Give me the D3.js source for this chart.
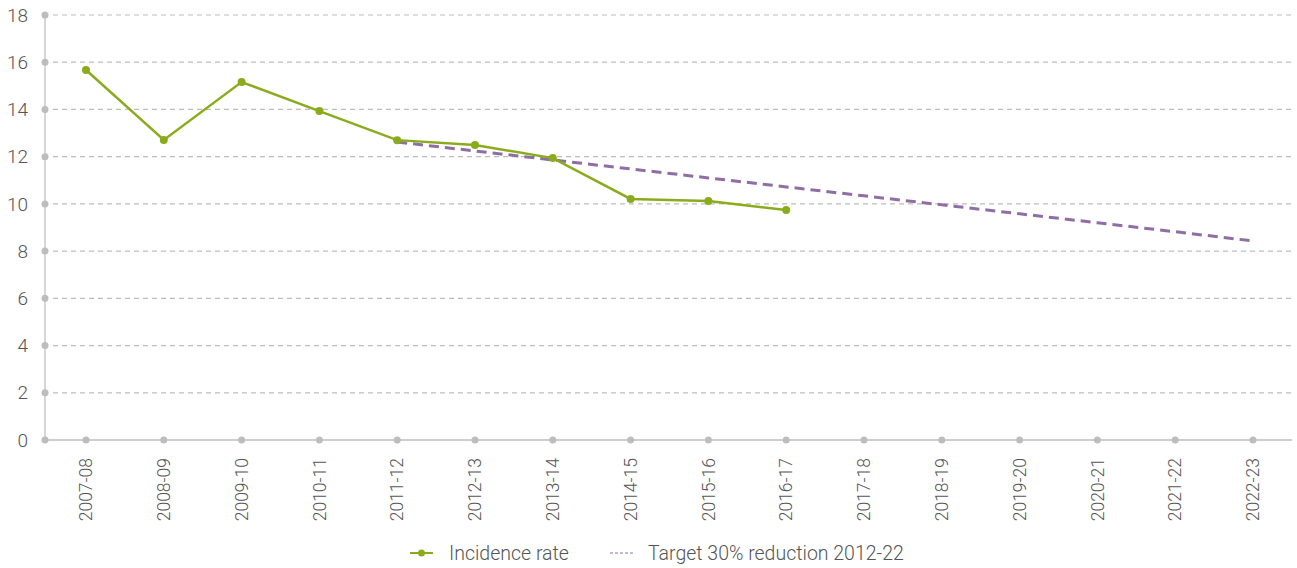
<!DOCTYPE html>
<html>
<head>
<meta charset="utf-8">
<script src="https://cdn.jsdelivr.net/npm/d3@7"></script>
<style>
  body { margin: 0; background: #fff; }
  text { font-family: Roboto, "Noto Sans", sans-serif; font-weight: 300; fill: #555; }
</style>
</head>
<body>
<script>
// data
var years = ["2007-08","2008-09","2009-10","2010-11","2011-12","2012-13","2013-14","2014-15",
             "2015-16","2016-17","2017-18","2018-19","2019-20","2020-21","2021-22","2022-23"];
var incidence = [15.67, 12.71, 15.16, 13.93, 12.7, 12.49, 11.94, 10.21, 10.12, 9.74];
var targetYears = ["2011-12","2012-13","2013-14","2014-15","2015-16","2016-17",
                   "2017-18","2018-19","2019-20","2020-21","2021-22","2022-23"];
var target = [12.62, 12.24, 11.86, 11.48, 11.1, 10.72, 10.34, 9.96, 9.58, 9.2, 8.82, 8.43];
var yTicks = [0, 2, 4, 6, 8, 10, 12, 14, 16, 18];

var w = 1297, h = 568;
var margin = {top: 15, right: 5, bottom: 128, left: 45},
    width = w - margin.left - margin.right,
    height = h - margin.top - margin.bottom;

var svg = d3.select("body").append("svg")
    .attr("width", w)
    .attr("height", h);
var g = svg.append("g")
    .attr("transform", "translate(" + margin.left + "," + margin.top + ")");

var xScale = d3.scalePoint()
    .domain(years)
    .range([41, 1208]);
var yScale = d3.scaleLinear()
    .domain([0, 18])
    .range([height, 0]);

// gridlines
g.selectAll(".grid")
    .data(yTicks.slice(1))
  .enter().append("line")
    .attr("x1", 8)
    .attr("x2", width)
    .attr("y1", function(d) { return yScale(d); })
    .attr("y2", function(d) { return yScale(d); })
    .attr("stroke", "#bdbdbd")
    .attr("stroke-width", 1.2)
    .attr("stroke-dasharray", "5,4");

// y axis
g.append("line")
    .attr("x1", 0).attr("x2", 0)
    .attr("y1", yScale(18)).attr("y2", height)
    .attr("stroke", "#c8c8c8")
    .attr("stroke-width", 1.5);
g.selectAll(".ydot")
    .data(yTicks)
  .enter().append("circle")
    .attr("cx", 0)
    .attr("cy", function(d) { return yScale(d); })
    .attr("r", 3.5)
    .attr("fill", "#bdbdbd");
g.selectAll(".ylab")
    .data(yTicks)
  .enter().append("text")
    .attr("x", -17)
    .attr("y", function(d) { return yScale(d); })
    .attr("dy", "0.35em")
    .attr("text-anchor", "end")
    .style("font-size", "19px")
    .text(function(d) { return d; });

// x axis
g.append("line")
    .attr("x1", 0).attr("x2", width)
    .attr("y1", height).attr("y2", height)
    .attr("stroke", "#bdbdbd")
    .attr("stroke-width", 1.5);
g.selectAll(".xdot")
    .data(years)
  .enter().append("circle")
    .attr("cx", function(d) { return xScale(d); })
    .attr("cy", height)
    .attr("r", 3.5)
    .attr("fill", "#bdbdbd");
g.selectAll(".xlab")
    .data(years)
  .enter().append("text")
    .attr("transform", function(d) {
      return "translate(" + xScale(d) + "," + (height + 18) + ") rotate(-90)";
    })
    .attr("dy", "0.35em")
    .attr("text-anchor", "end")
    .style("font-size", "17.5px")
    .text(function(d) { return d; });

// target line
var targetLine = d3.line()
    .x(function(d, i) { return xScale(targetYears[i]); })
    .y(function(d) { return yScale(d); });
g.append("path")
    .attr("d", targetLine(target))
    .attr("fill", "none")
    .attr("stroke", "#8f6fa3")
    .attr("stroke-width", 3)
    .attr("stroke-dasharray", "10,6");

// incidence line
var incLine = d3.line()
    .x(function(d, i) { return xScale(years[i]); })
    .y(function(d) { return yScale(d); });
g.append("path")
    .attr("d", incLine(incidence))
    .attr("fill", "none")
    .attr("stroke", "#8aac1c")
    .attr("stroke-width", 2.5);
g.selectAll(".pt")
    .data(incidence)
  .enter().append("circle")
    .attr("cx", function(d, i) { return xScale(years[i]); })
    .attr("cy", function(d) { return yScale(d); })
    .attr("r", 4)
    .attr("fill", "#8aac1c");

// legend
var legend = svg.append("g")
    .attr("transform", "translate(0,553)");
legend.append("line")
    .attr("x1", 410).attr("x2", 433).attr("y1", 0).attr("y2", 0)
    .attr("stroke", "#8aac1c").attr("stroke-width", 2);
legend.append("circle")
    .attr("cx", 421.5).attr("cy", 0).attr("r", 3.5)
    .attr("fill", "#8aac1c");
legend.append("text")
    .attr("x", 449).attr("y", 0).attr("dy", "0.35em")
    .style("font-size", "19.5px")
    .text("Incidence rate");
legend.append("line")
    .attr("x1", 610).attr("x2", 633).attr("y1", 0).attr("y2", 0)
    .attr("stroke", "#8f6fa3").attr("stroke-width", 1)
    .attr("stroke-dasharray", "3,2");
legend.append("text")
    .attr("x", 648).attr("y", 0).attr("dy", "0.35em")
    .style("font-size", "19.5px")
    .text("Target 30% reduction 2012-22");
</script>
</body>
</html>
